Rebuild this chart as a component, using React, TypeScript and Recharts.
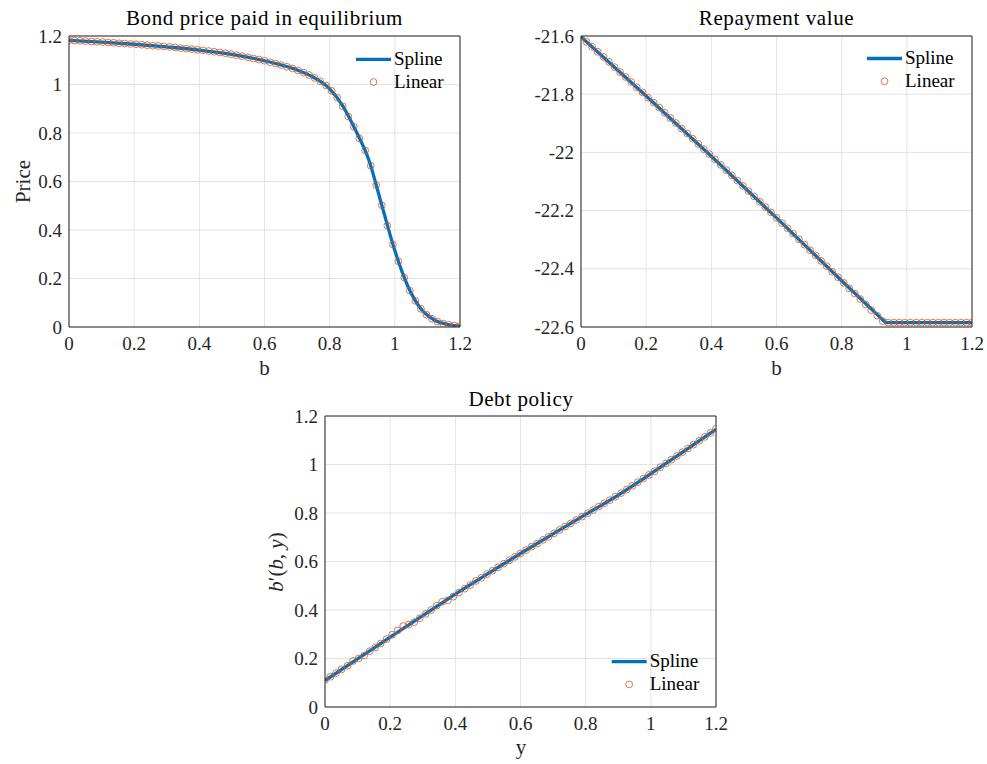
import React from 'react';
import { ComposedChart, Line, XAxis, YAxis, CartesianGrid } from 'recharts';

// ---------- data ----------
const gridPoints = [
  0, 0.017, 0.034, 0.051, 0.069, 0.086, 0.103, 0.12, 0.137, 0.154,
  0.171, 0.189, 0.206, 0.223, 0.24, 0.257, 0.274, 0.291, 0.309, 0.326,
  0.343, 0.36, 0.377, 0.394, 0.411, 0.429, 0.446, 0.463, 0.48, 0.497,
  0.514, 0.531, 0.549, 0.566, 0.583, 0.6, 0.617, 0.634, 0.651, 0.669,
  0.686, 0.703, 0.72, 0.737, 0.754, 0.771, 0.789, 0.806, 0.823, 0.84,
  0.857, 0.874, 0.891, 0.909, 0.926, 0.943, 0.96, 0.977, 0.994, 1.011,
  1.029, 1.046, 1.063, 1.08, 1.097, 1.114, 1.131, 1.149, 1.166, 1.183,
  1.2,
];

const priceLinear = [
  1.182, 1.181, 1.180, 1.179, 1.177, 1.176, 1.175, 1.173, 1.172, 1.170,
  1.169, 1.167, 1.166, 1.164, 1.162, 1.160, 1.159, 1.157, 1.155, 1.153,
  1.150, 1.148, 1.146, 1.143, 1.141, 1.138, 1.135, 1.132, 1.129, 1.125,
  1.121, 1.117, 1.112, 1.107, 1.103, 1.098, 1.092, 1.086, 1.080, 1.073,
  1.066, 1.058, 1.049, 1.039, 1.027, 1.013, 0.996, 0.974, 0.946, 0.910,
  0.868, 0.826, 0.778, 0.728, 0.665, 0.585, 0.502, 0.418, 0.340, 0.271,
  0.204, 0.150, 0.108, 0.075, 0.051, 0.034, 0.022, 0.014, 0.009, 0.006,
  0.004,
];
const priceSplineB = [0, 0.1, 0.2, 0.3, 0.4, 0.5, 0.6, 0.65, 0.7, 0.75, 0.8, 0.84, 0.88, 0.92, 0.96, 1.0, 1.04, 1.08, 1.12, 1.16, 1.2];
const priceSpline = [1.182, 1.175, 1.166, 1.155, 1.142, 1.124, 1.098, 1.081, 1.060, 1.030, 0.982, 0.912, 0.810, 0.690, 0.502, 0.315, 0.168, 0.075, 0.030, 0.011, 0.004];

const repayLinear = [
  -21.603, -21.620, -21.637, -21.654, -21.672, -21.689, -21.707, -21.724, -21.741, -21.758,
  -21.776, -21.794, -21.812, -21.829, -21.846, -21.864, -21.882, -21.899, -21.918, -21.935,
  -21.953, -21.971, -21.989, -22.006, -22.024, -22.043, -22.061, -22.079, -22.097, -22.115,
  -22.133, -22.151, -22.170, -22.188, -22.206, -22.225, -22.243, -22.261, -22.279, -22.299,
  -22.317, -22.336, -22.354, -22.373, -22.391, -22.410, -22.429, -22.448, -22.467, -22.485,
  -22.504, -22.523, -22.542, -22.561, -22.580, -22.585, -22.585, -22.585, -22.585, -22.585,
  -22.585, -22.585, -22.585, -22.585, -22.585, -22.585, -22.585, -22.585, -22.585, -22.585,
  -22.585,
];
const repaySplineB = [0, 0.2, 0.4, 0.6, 0.8, 0.935, 1.2];
const repaySpline = [-21.603, -21.806, -22.013, -22.225, -22.441, -22.585, -22.585];

const policyLinear = [
  0.111, 0.125, 0.140, 0.155, 0.170, 0.190, 0.200, 0.212, 0.230, 0.245,
  0.262, 0.280, 0.298, 0.316, 0.334, 0.340, 0.350, 0.366, 0.384, 0.400,
  0.418, 0.434, 0.440, 0.455, 0.472, 0.488, 0.503, 0.520, 0.533, 0.548,
  0.562, 0.576, 0.591, 0.605, 0.619, 0.633, 0.647, 0.661, 0.674, 0.689,
  0.702, 0.716, 0.730, 0.744, 0.757, 0.771, 0.785, 0.799, 0.812, 0.826,
  0.840, 0.853, 0.867, 0.882, 0.897, 0.912, 0.927, 0.942, 0.957, 0.972,
  0.989, 1.004, 1.020, 1.035, 1.051, 1.066, 1.082, 1.098, 1.114, 1.130,
  1.148,
];
const policySplineY = [0, 0.1, 0.2, 0.3, 0.4, 0.5, 0.6, 0.7, 0.8, 0.9, 1.0, 1.1, 1.2];
const policySpline = [0.109, 0.198, 0.288, 0.377, 0.465, 0.550, 0.633, 0.714, 0.794, 0.874, 0.962, 1.053, 1.145];

const xTicks = [0, 0.2, 0.4, 0.6, 0.8, 1, 1.2];
const priceTicks = [0, 0.2, 0.4, 0.6, 0.8, 1, 1.2];
const repayTicks = [-22.6, -22.4, -22.2, -22, -21.8, -21.6];
const policyTicks = [0, 0.2, 0.4, 0.6, 0.8, 1, 1.2];

const titles = ['Bond price paid in equilibrium', 'Repayment value', 'Debt policy'];
const legendLabels = ['Spline', 'Linear'];

// ---------- styling ----------
const FONT = 'Liberation Serif';
const AX = '#262626';
const BLUE = '#0072BD';
const ORANGE = '#D95319';
const GRID = '#e3e3e3';
const PW = 391;
const PH = 291;
const ML = 60;
const MT = 10;
const MR = 20;
const MB = 40;

const zip = (xs: number[], ys: number[]) => xs.map((x, i) => ({ x, y: ys[i] }));

function XTick(props: any) {
  const { x, y, payload } = props;
  return (
    <text x={x} y={y} dy={13} textAnchor="middle" fontSize={19} fontFamily={FONT} fill={AX}>
      {String(payload.value)}
    </text>
  );
}

function YTick(props: any) {
  const { x, y, payload } = props;
  return (
    <text x={x} y={y} dy={6.5} textAnchor="end" fontSize={19} fontFamily={FONT} fill={AX}>
      {String(payload.value)}
    </text>
  );
}

type PanelProps = {
  left: number;
  top: number;
  spline: { x: number; y: number }[];
  linear: { x: number; y: number }[];
  yDomain: [number, number];
  yTicks: number[];
  splineType: 'monotone' | 'linear';
};

function Panel({ left, top, spline, linear, yDomain, yTicks, splineType }: PanelProps) {
  return (
    <div style={{ position: 'absolute', left: left - ML, top: top - MT }}>
      <ComposedChart
        width={ML + PW + MR}
        height={MT + PH + MB}
        margin={{ top: MT, right: MR, bottom: 0, left: 0 }}
      >
        <CartesianGrid xAxisId="x" yAxisId="y" stroke={GRID} strokeWidth={1} />
        <XAxis
          xAxisId="x"
          type="number"
          dataKey="x"
          domain={[0, 1.2]}
          ticks={xTicks}
          interval={0}
          allowDataOverflow
          height={MB}
          tickLine={false}
          tickSize={0}
          tickMargin={10}
          axisLine={{ stroke: AX, strokeWidth: 1 }}
          tick={<XTick />}
        />
        <XAxis
          xAxisId="xb"
          type="number"
          domain={[0, 1.2]}
          ticks={xTicks}
          interval={0}
          mirror
          orientation="bottom"
          tick={false}
          tickSize={5}
          axisLine={false}
          tickLine={{ stroke: AX }}
        />
        <XAxis
          xAxisId="xt"
          type="number"
          domain={[0, 1.2]}
          ticks={xTicks}
          interval={0}
          mirror
          orientation="top"
          tick={false}
          tickSize={5}
          axisLine={{ stroke: AX, strokeWidth: 1 }}
          tickLine={{ stroke: AX }}
        />
        <YAxis
          yAxisId="y"
          type="number"
          dataKey="y"
          domain={yDomain}
          ticks={yTicks}
          interval={0}
          allowDataOverflow
          width={ML}
          tickLine={false}
          tickSize={0}
          tickMargin={7}
          axisLine={{ stroke: AX, strokeWidth: 1 }}
          tick={<YTick />}
        />
        <YAxis
          yAxisId="yl"
          type="number"
          domain={yDomain}
          ticks={yTicks}
          interval={0}
          mirror
          orientation="left"
          tick={false}
          tickSize={5}
          axisLine={false}
          tickLine={{ stroke: AX }}
        />
        <YAxis
          yAxisId="yr"
          type="number"
          domain={yDomain}
          ticks={yTicks}
          interval={0}
          mirror
          orientation="right"
          tick={false}
          tickSize={5}
          axisLine={{ stroke: AX, strokeWidth: 1 }}
          tickLine={{ stroke: AX }}
        />
        <Line
          xAxisId="x"
          yAxisId="y"
          data={spline}
          dataKey="y"
          type={splineType}
          stroke={BLUE}
          strokeWidth={3.3}
          dot={false}
          isAnimationActive={false}
        />
        <Line
          xAxisId="x"
          yAxisId="y"
          data={linear}
          dataKey="y"
          stroke="none"
          dot={{ r: 3.4, stroke: ORANGE, strokeWidth: 0.8, fill: 'none' }}
          isAnimationActive={false}
        />
      </ComposedChart>
    </div>
  );
}

function LegendGroup({ x, y }: { x: number; y: number }) {
  return (
    <g>
      <line x1={x} y1={y} x2={x + 35} y2={y} stroke={BLUE} strokeWidth={3.3} />
      <text x={x + 38} y={y + 5.5} fontSize={19} fontFamily={FONT} fill="#000">
        {legendLabels[0]}
      </text>
      <circle cx={x + 17.5} cy={y + 22.7} r={3.4} stroke={ORANGE} strokeWidth={0.8} fill="none" />
      <text x={x + 38} y={y + 28.5} fontSize={19} fontFamily={FONT} fill="#000">
        {legendLabels[1]}
      </text>
    </g>
  );
}

export default function App() {
  const titleStyle = { fontSize: 21, fontFamily: FONT, fill: '#000', letterSpacing: 0.6 } as const;
  const labelStyle = { fontSize: 21, fontFamily: FONT, fill: AX } as const;
  return (
    <div style={{ position: 'absolute', left: 0, top: 0, width: 987, height: 764, background: '#fff', fontFamily: FONT }}>
      <Panel
        left={69}
        top={36}
        spline={zip(priceSplineB, priceSpline)}
        linear={zip(gridPoints, priceLinear)}
        yDomain={[0, 1.2]}
        yTicks={priceTicks}
        splineType="monotone"
      />
      <Panel
        left={581}
        top={36}
        spline={zip(repaySplineB, repaySpline)}
        linear={zip(gridPoints, repayLinear)}
        yDomain={[-22.6, -21.6]}
        yTicks={repayTicks}
        splineType="linear"
      />
      <Panel
        left={325}
        top={416}
        spline={zip(policySplineY, policySpline)}
        linear={zip(gridPoints, policyLinear)}
        yDomain={[0, 1.2]}
        yTicks={policyTicks}
        splineType="monotone"
      />
      <svg
        width={987}
        height={764}
        style={{ position: 'absolute', left: 0, top: 0, pointerEvents: 'none' }}
      >
        <text x={264.5} y={25} textAnchor="middle" {...titleStyle}>{titles[0]}</text>
        <text x={776.5} y={25} textAnchor="middle" {...titleStyle}>{titles[1]}</text>
        <text x={521} y={406} textAnchor="middle" {...titleStyle}>{titles[2]}</text>

        <text x={264.5} y={375} textAnchor="middle" {...labelStyle}>b</text>
        <text x={776.5} y={375} textAnchor="middle" {...labelStyle}>b</text>
        <text x={521} y={754} textAnchor="middle" {...labelStyle}>y</text>
        <text transform="translate(29.5,181.5) rotate(-90)" textAnchor="middle" {...labelStyle}>Price</text>
        <text transform="translate(283,562) rotate(-90)" textAnchor="middle" {...labelStyle}>
          <tspan fontStyle="italic">b</tspan>
          <tspan>′(</tspan>
          <tspan fontStyle="italic">b</tspan>
          <tspan>, </tspan>
          <tspan fontStyle="italic">y</tspan>
          <tspan>)</tspan>
        </text>

        <LegendGroup x={356} y={59.3} />
        <LegendGroup x={867} y={58.5} />
        <LegendGroup x={611.7} y={661.7} />
      </svg>
    </div>
  );
}
